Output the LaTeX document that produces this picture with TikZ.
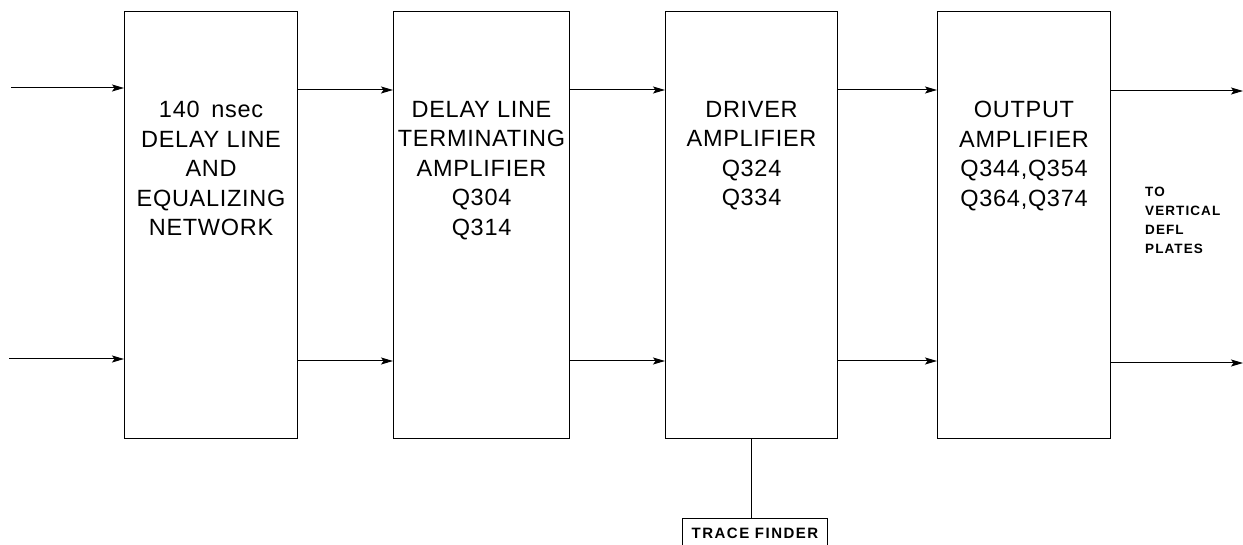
\documentclass[tikz,border=0pt]{standalone}
\usepackage{fontspec}
\setmainfont{Liberation Sans}
\usetikzlibrary{arrows.meta}
\begin{document}
\begin{tikzpicture}[x=1pt,y=-1pt,
  blk/.style={draw,line width=1.1pt,minimum height=427pt,inner sep=0pt,anchor=north west},
  lbl/.style={align=center,inner sep=0pt,anchor=north,font=\fontsize{23.5}{29.5}\selectfont\addfontfeature{LetterSpace=3}},
  arr/.style={line width=1pt,-{Stealth[length=12pt,width=7pt,inset=2.5pt]}},
  wire/.style={line width=1pt},
  small/.style={inner sep=0pt,font=\fontsize{13.5}{19}\selectfont\bfseries\addfontfeature{LetterSpace=8}}
]
\useasboundingbox (0,0) rectangle (1243,545);
% blocks
\node[blk,minimum width=173pt] (b1) at (124,11) {};
\node[blk,minimum width=176pt] (b2) at (393,11) {};
\node[blk,minimum width=172pt] (b3) at (665,11) {};
\node[blk,minimum width=173pt] (b4) at (937,11) {};
% labels
\node[lbl] (t1) at ([yshift=-90pt]b1.north) {140\hspace{0.5em}nsec\\DELAY LINE\\AND\\EQUALIZING\\NETWORK};
\node[lbl] (t2) at ([yshift=-90pt]b2.north) {DELAY LINE\\TERMINATING\\AMPLIFIER\\Q304\\Q314};
\node[lbl] (t3) at ([yshift=-90pt]b3.north) {DRIVER\\AMPLIFIER\\Q324\\Q334};
\node[lbl] (t4) at ([yshift=-90pt]b4.north) {OUTPUT\\AMPLIFIER\\Q344,Q354\\Q364,Q374};
% rows
\coordinate (rowT) at (0,90);
\coordinate (rowB) at (0,361);
\coordinate (inT) at (11,88);
\coordinate (inB) at (9,359);
\coordinate (outT) at (1243,91);
\coordinate (outB) at (1243,363);
% connectors
\draw[arr] (inT) -- (b1.west |- inT);
\draw[arr] (inB) -- (b1.west |- inB);
\draw[arr] (b1.east |- rowT) -- (b2.west |- rowT);
\draw[arr] (b1.east |- rowB) -- (b2.west |- rowB);
\draw[arr] (b2.east |- rowT) -- (b3.west |- rowT);
\draw[arr] (b2.east |- rowB) -- (b3.west |- rowB);
\draw[arr] (b3.east |- rowT) -- (b4.west |- rowT);
\draw[arr] (b3.east |- rowB) -- (b4.west |- rowB);
\draw[arr] (b4.east |- outT) -- (outT);
\draw[arr] (b4.east |- outB) -- (outB);
% output text
\node[small,align=left,anchor=north west] (defl) at (1145,187) {TO\\VERTICAL\\DEFL\\PLATES};
% trace finder
\node[draw,line width=1pt,minimum width=145pt,minimum height=30pt,anchor=north west,inner sep=0pt,
      font=\fontsize{15}{16}\selectfont\bfseries\addfontfeature{LetterSpace=10}] (tf) at (682,518) {TRACE FINDER};
\draw[wire] (b3.south) -- (b3.south |- tf.north);
\end{tikzpicture}
\end{document}
